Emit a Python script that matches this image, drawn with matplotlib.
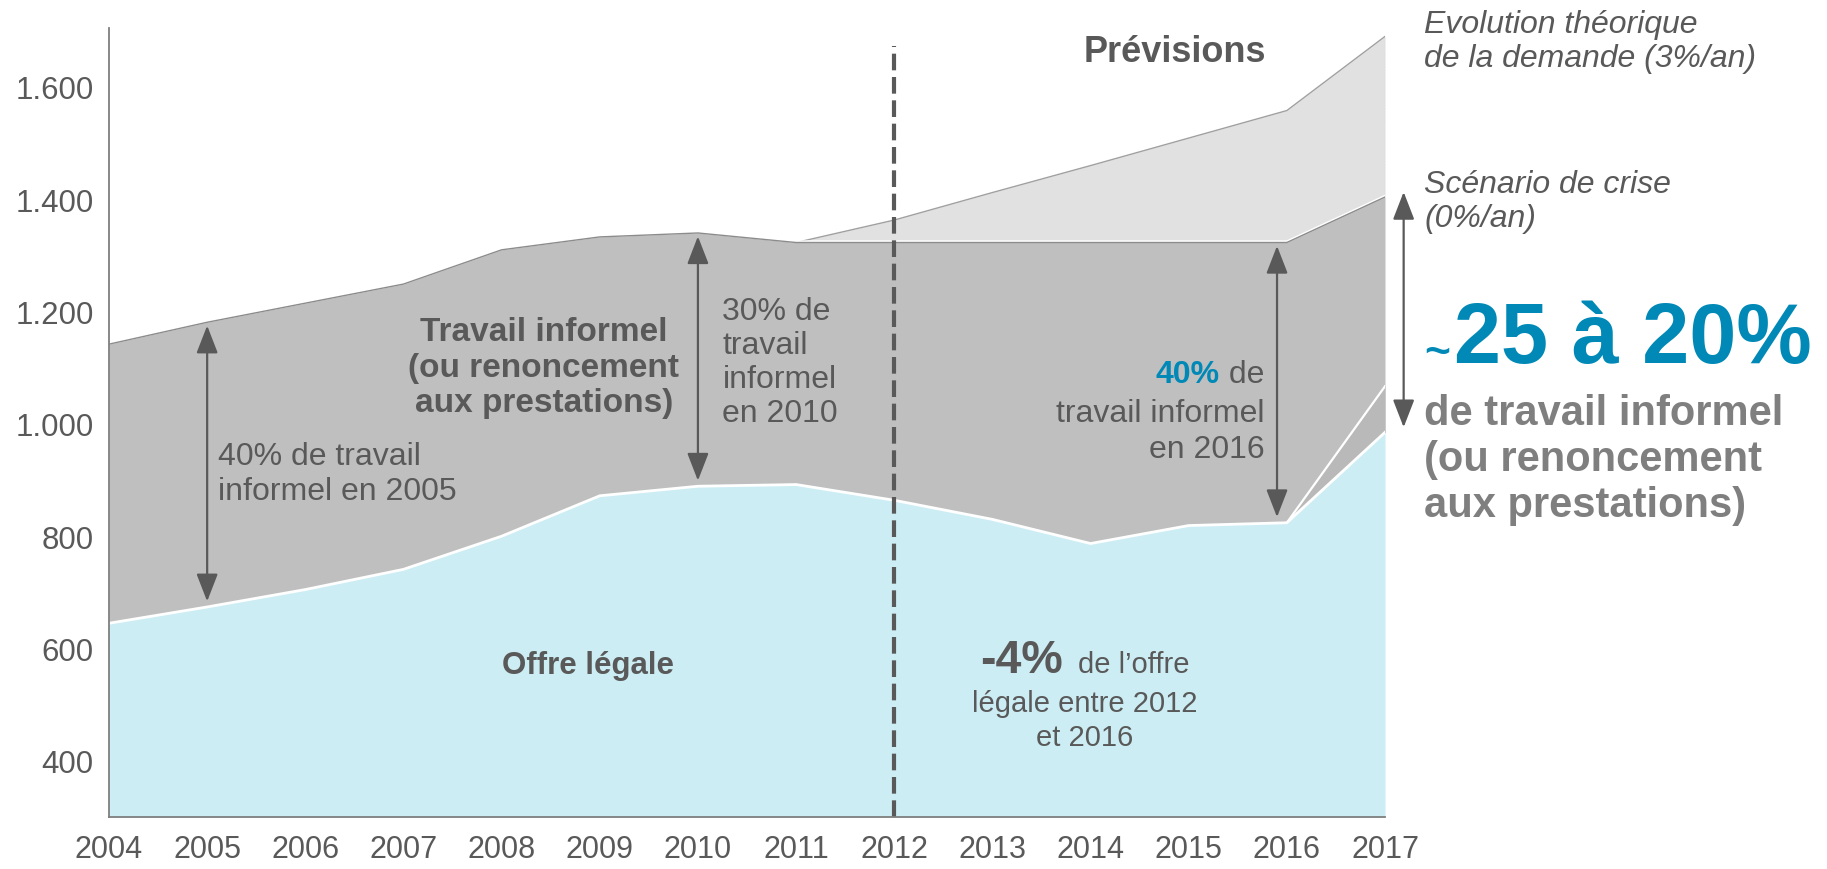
import matplotlib
matplotlib.use("Agg")
import matplotlib.pyplot as plt
import matplotlib.patheffects as pe

# ---------------- data ----------------
years = [2004, 2005, 2006, 2007, 2008, 2009, 2010, 2011, 2012, 2013, 2014, 2015, 2016, 2017]
offre_legale = [645, 674, 705, 741, 800, 872, 889, 892, 864, 830, 787, 819, 824, 985]
demande_totale = [1142, 1181, 1215, 1249, 1310, 1333, 1340, 1323, 1323, 1323, 1323, 1323, 1323, 1404]
prev_years = [2011, 2012, 2013, 2014, 2015, 2016, 2017]
demande_theorique = [1323, 1363, 1412, 1460, 1509, 1558, 1690]
alt_years = [2016, 2017]
offre_alt = [824, 1067]
y_ticks = [400, 600, 800, 1000, 1200, 1400, 1600]
y_tick_labels = ["400", "600", "800", "1.000", "1.200", "1.400", "1.600"]
x_tick_labels = [str(y) for y in years]
prevision_year = 2012
arrow_years = [2005, 2010, 2015.9]

# ---------------- style ----------------
W, H = 1827, 870
BLUE_FILL = "#cdedf4"
GRAY = "#bfbfbf"
LIGHT = "#e1e1e1"
WEDGE = "#b9b9b9"
TXT = "#595959"
TXT2 = "#7f7f7f"
BLUE = "#0089b6"
FONT = ["Liberation Sans", "DejaVu Sans"]
plt.rcParams["font.family"] = FONT

fig = plt.figure(figsize=(W / 100, H / 100), dpi=100)
L, R, B, T = 109, 1385, 818, 29
ax = fig.add_axes([L / W, 1 - B / H, (R - L) / W, (B - T) / H])
ax.set_xlim(years[0], years[-1])
ax.set_ylim(300, 1705)

def fx(px):
    return px / W

def fy(py):
    return 1 - py / H

# theoretical demand band
crisis_prev = [demande_totale[years.index(y)] for y in prev_years]
ax.fill_between(prev_years, crisis_prev, demande_theorique, color=LIGHT, lw=0, zorder=1)
ax.plot(prev_years, demande_theorique, color="#a0a0a0", lw=1.0, zorder=2)
ax.plot([prev_years[-1], prev_years[-1]], [crisis_prev[-1], demande_theorique[-1]],
        color="#a8a8a8", lw=0.8, ls=":", zorder=2)

# informal work band
ax.fill_between(years, offre_legale, demande_totale, color=GRAY, lw=0, zorder=2)
off_alt_low = [offre_legale[years.index(y)] for y in alt_years]
ax.fill_between(alt_years, off_alt_low, offre_alt, color=WEDGE, lw=0, zorder=2.5)
ax.plot(years, demande_totale, color="#8c8c8c", lw=1.0, zorder=3,
        path_effects=[pe.Stroke(offset=(0, 1.0), linewidth=1.2, foreground="white"), pe.Normal()])

# legal offer
ax.fill_between(years, 300, offre_legale, color=BLUE_FILL, lw=0, zorder=3)
ax.plot(years, offre_legale, color="white", lw=2.0, zorder=4)
ax.plot(alt_years, offre_alt, color="white", lw=1.6, zorder=4)

# forecast dashed line
ax.plot([prevision_year, prevision_year], [300, 1673], color=TXT, lw=3, dashes=(4, 1.6), zorder=5)

# spines / ticks
for s in ["top", "right"]:
    ax.spines[s].set_visible(False)
for s in ["left", "bottom"]:
    ax.spines[s].set_color("#7f7f7f")
    ax.spines[s].set_linewidth(1.3)
    ax.spines[s].set_zorder(6)
ax.set_yticks(y_ticks)
ax.set_yticklabels(y_tick_labels)
ax.set_xticks(years)
ax.set_xticklabels(x_tick_labels)
ax.tick_params(axis="both", length=0, labelsize=22.5, colors=TXT)
ax.tick_params(axis="y", pad=11)
ax.tick_params(axis="x", pad=12, labelsize=22)

# arrows
def darrow(x, y0, y1):
    ax.annotate("", xy=(x, y1), xytext=(x, y0),
                arrowprops=dict(arrowstyle="<|-|>,head_length=0.85,head_width=0.33",
                                color=TXT, lw=1.6, shrinkA=0, shrinkB=0, mutation_scale=20),
                zorder=7, annotation_clip=False)

for ay in arrow_years:
    yi = years.index(round(ay))
    lo = offre_legale[yi] + 10
    hi = demande_totale[yi] - 6
    darrow(ay, lo, hi)
darrow(2017.19, offre_legale[-1] + 9, demande_totale[-1] + 9)

# texts inside plot
ax.text(2014.86, 1664, "Prévisions", ha="center", va="center", fontsize=26,
        fontweight="bold", color=TXT, zorder=8)
ax.text(2008.43, 1101, "Travail informel\n(ou renoncement\naux prestations)", ha="center",
        va="center", fontsize=24, fontweight="bold", color=TXT, linespacing=1.18, zorder=8)
ax.text(2005.11, 912, "40% de travail\ninformel en 2005", ha="left", va="center",
        fontsize=23, color=TXT, linespacing=1.2, zorder=8)
ax.text(2010.25, 1110, "30% de\ntravail\ninformel\nen 2010", ha="left", va="center",
        fontsize=23, color=TXT, linespacing=1.17, zorder=8)
t_de = ax.text(2015.77, 1088, " de", ha="right", va="center", fontsize=23, color=TXT, zorder=8)
ax.annotate("40%", xy=(0, 0.5), xycoords=t_de, ha="right", va="center", fontsize=23,
            fontweight="bold", color=BLUE, zorder=8)
ax.text(2015.77, 1019, "travail informel", ha="right", va="center", fontsize=23, color=TXT, zorder=8)
ax.text(2015.77, 955, "en 2016", ha="right", va="center", fontsize=23, color=TXT, zorder=8)
ax.text(2008.88, 571, "Offre légale", ha="center", va="center", fontsize=22.5,
        fontweight="bold", color=TXT, zorder=8)
t4 = ax.text(2012.88, 559, "-4%", ha="left", va="baseline", fontsize=33.5,
             fontweight="bold", color=TXT, zorder=8)
ax.annotate("de l\u2019offre", xy=(1, 559), xycoords=(t4, "data"), xytext=(10.5, 0),
            textcoords="offset points", ha="left", va="baseline", fontsize=21, color=TXT, zorder=8)
ax.text(2013.94, 489, "légale entre 2012", ha="center", va="baseline", fontsize=21, color=TXT, zorder=8)
ax.text(2013.94, 429, "et 2016", ha="center", va="baseline", fontsize=21, color=TXT, zorder=8)

# right side texts (figure coordinates)
fig.text(fx(1424), fy(42), "Evolution théorique\nde la demande (3%/an)", ha="left", va="center",
         fontsize=23, style="italic", color=TXT, linespacing=1.2)
fig.text(fx(1424), fy(202), "Scénario de crise\n(0%/an)", ha="left", va="center",
         fontsize=23, style="italic", color=TXT, linespacing=1.2)
tt = fig.text(fx(1424), fy(365), "~", ha="left", va="baseline", fontsize=32,
              fontweight="bold", color=BLUE)
ax.annotate("25 à 20%", xy=(1, fy(363)), xycoords=(tt, "figure fraction"), xytext=(3, 0),
            textcoords="offset points", ha="left", va="baseline", fontsize=61,
            fontweight="bold", color=BLUE, annotation_clip=False)
fig.text(fx(1424), fy(460), "de travail informel\n(ou renoncement\naux prestations)", ha="left",
         va="center", fontsize=30, fontweight="bold", color=TXT2, linespacing=1.19)

fig.savefig("out.png", dpi=100, facecolor="white")
